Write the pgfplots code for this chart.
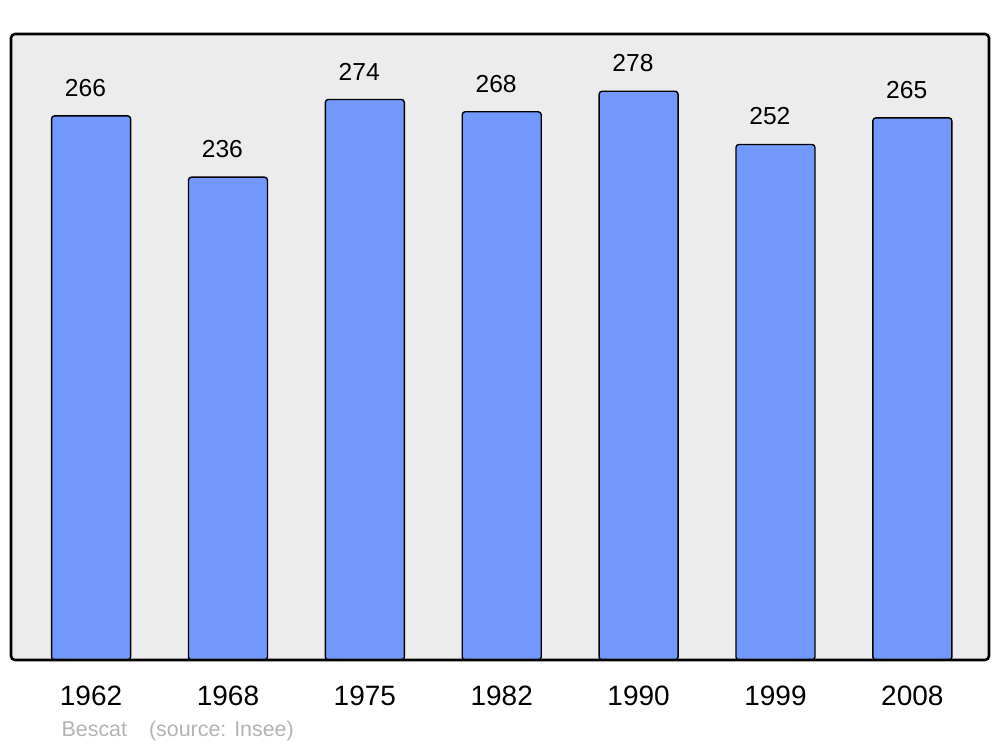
\documentclass[border=0pt]{standalone}
\usepackage{fontspec}
\setmainfont{Liberation Sans}
\usepackage{pgfplots}
\pgfplotsset{compat=1.18}
\definecolor{barblue}{HTML}{7399FF}
\definecolor{bggray}{HTML}{ECECEC}
\definecolor{srcgray}{HTML}{B3B3B3}
\begin{document}
\begin{tikzpicture}
\begin{axis}[
  scale only axis, width=489pt, height=313pt,
  xmin=-0.585, xmax=6.56, ymin=0, ymax=306,
  axis line style={draw=none},
  axis background/.style={fill=bggray},
  ytick=\empty,
  xtick={0,1,2,3,4,5,6},
  xticklabels={1962,1968,1975,1982,1990,1999,2008},
  xtick style={draw=none},
  xticklabel style={font=\fontsize{14}{16}\selectfont, anchor=center, yshift=-13.5pt},
  /pgf/number format/assume math mode=true,
  nodes near coords,
  every node near coord/.append style={font=\fontsize{12.3}{14}\selectfont, anchor=center, yshift=14pt, xshift=-2.8pt},
  ybar, bar width=39.5pt,
]
\addplot[fill=barblue, draw=black, line width=0.7pt, rounded corners=1.5pt]
  coordinates {(0,266)(1,236)(2,274)(3,268)(4,278)(5,252)(6,265)};
\end{axis}
\draw[line width=1.3pt, rounded corners=2pt] (current axis.south west) rectangle (current axis.north east);
\node[anchor=west, text=srcgray, font=\fontsize{10.7}{12}\selectfont] at ([shift={(21.8pt,-35.5pt)}]current axis.south west) {Bescat\hspace{11pt}(source: Insee)};
\path ([shift={(-5.5pt,-43.5pt)}]current axis.south west) rectangle ([shift={(5.5pt,17pt)}]current axis.north east);
\end{tikzpicture}
\end{document}
